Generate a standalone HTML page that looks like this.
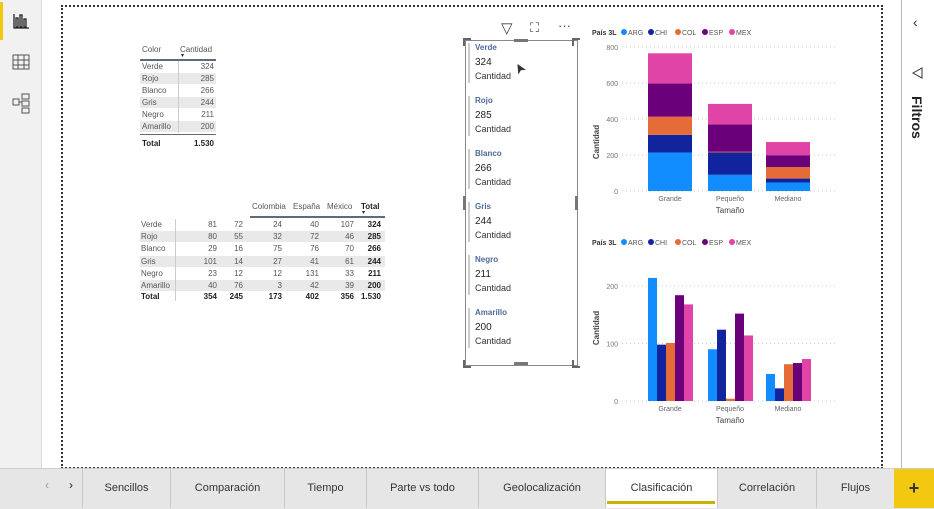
<!DOCTYPE html>
<html><head><meta charset="utf-8">
<style>
body{margin:0;width:934px;height:508px;overflow:hidden;background:#fff;font-family:"Liberation Sans",sans-serif;position:relative}
.a{position:absolute}
.t{font-size:8px;color:#555;position:absolute;white-space:nowrap}
.r{text-align:right}
.b{font-weight:bold;color:#222}
</style></head><body>
<div class="a" style="left:0;top:0;width:41px;height:468px;background:#f1f1f1;border-right:1px solid #ddd"></div>
<div class="a" style="left:0;top:2px;width:3px;height:38px;background:#f2c811"></div>
<svg class="a" style="left:0;top:0" width="41" height="130">
<g stroke="#222" fill="none" stroke-width="1.3"><path d="M14 14v14h15"/><rect x="16" y="18" width="2" height="9"/><rect x="20" y="15" width="2" height="12"/><rect x="24" y="19" width="2" height="8"/></g>
<g stroke="#555" fill="none" stroke-width="1"><rect x="13" y="55" width="16" height="14"/><path d="M13 60h16M13 65h16M18 55v14M24 55v14"/></g>
<g stroke="#555" fill="none" stroke-width="1"><rect x="13" y="99" width="6" height="6"/><rect x="22" y="94" width="7" height="5"/><rect x="22" y="101" width="7" height="5"/><rect x="22" y="108" width="7" height="5"/><path d="M19 102h3"/></g>
</svg>
<div class="a" style="left:61px;top:5px;width:818px;height:460px;border:2px dotted #333"></div>
<div class="a" style="left:901px;top:0;width:33px;height:468px;background:#fff;border-left:1px solid #bbb"></div>
<div class="t" style="left:913px;top:14px;font-size:14px;color:#333">‹</div>
<svg class="a" style="left:911px;top:66px" width="14" height="14"><path d="M2 7 L11 2 L11 12 Z" fill="none" stroke="#333"/></svg>
<div class="t b" style="top:96px;font-size:14px;color:#222;transform:rotate(90deg);transform-origin:0 0;left:925px">Filtros</div>

<svg class="a" style="left:0;top:0" width="934" height="468" id="ch"></svg>

<div class="a" style="left:0;top:468px;width:934px;height:40px;background:#e6e6e6;border-top:1px solid #ccc"></div>

<script>
const colors=["Verde","Rojo","Blanco","Gris","Negro","Amarillo"];
const totals=[324,285,266,244,211,200];
const m1=[81,80,29,101,23,40];
const m2=[72,55,16,14,12,76];
const mCol=[24,32,75,27,12,3];
const mEsp=[40,72,76,41,131,42];
const mMex=[107,46,70,61,33,39];
const sizes=["Grande","Pequeño","Mediano"];
const countries=["ARG","CHI","COL","ESP","MEX"];
const sARG=[214,90,47];
const sCHI=[98,124,22];
const sCOL=[101,4,64];
const sESP=[184,152,66];
const sMEX=[168,114,73];
const stackTicks=[0,200,400,600,800];
const clusterTicks=[0,100,200];
const tabNames=["Sencillos","Comparación","Tiempo","Parte vs todo","Geolocalización","Clasificación","Correlación","Flujos"];

const cc=["#118DFF","#12239E","#E66C37","#6B007B","#E044A7"];
const series=[sARG,sCHI,sCOL,sESP,sMEX];
function el(p,html,cls,st,name){const d=document.createElement('div');d.className='t '+(cls||'');d.style.cssText=st;d.innerHTML=html;


p.appendChild(d);return d;}
const B=document.body;
el(B,"Color","", "left:142px;top:45px","header-color");
el(B,"Cantidad","","left:180px;top:45px","header-cantidad");
el(B,"▾","","left:181px;top:52px;font-size:6px;color:#222","sort-indicator");
el(B,"","","left:140px;top:59px;width:76px;height:2px;background:#5d6b7a","header-underline");
colors.forEach((c,i)=>{const y=61+i*12;
 if(i%2==1)el(B,"","","left:140px;top:"+y+"px;width:76px;height:11px;background:#e9e9e9","row-shade");
 el(B,c,"","left:142px;top:"+(y+1)+"px","row-label");
 el(B,totals[i],"r","left:180px;width:34px;top:"+(y+1)+"px","row-value");
});
el(B,"","","left:178px;top:61px;width:1px;height:72px;background:#ccc","col-sep");
el(B,"","","left:140px;top:134px;width:76px;height:1px;background:#5d6b7a","total-line");
el(B,"Total","b","left:142px;top:139px","total-label");
el(B,"1.530","b r","left:180px;width:34px;top:139px","total-value");
const hx=[[252,"Colombia"],[293,"España"],[327,"México"]];
hx.forEach(h=>el(B,h[1],"","left:"+h[0]+"px;top:202px","matrix-header"));
el(B,"Total","b","left:361px;top:202px","matrix-header-total");
el(B,"▾","","left:362px;top:209px;font-size:6px;color:#222","sort-indicator");
el(B,"","","left:250px;top:216px;width:135px;height:2px;background:#5d6b7a","matrix-header-underline");
const rx=[217,243,282,319,354,381];
const cols=[m1,m2,mCol,mEsp,mMex,totals];
colors.forEach((c,i)=>{const y=219+i*12.2;
 if(i%2==1)el(B,"","","left:140px;top:"+y+"px;width:245px;height:11px;background:#e9e9e9","matrix-row-shade");
 el(B,c,"","left:141px;top:"+(y+1)+"px","matrix-row-label");
 cols.forEach((col,j)=>el(B,col[i],j==5?"b r":"r","left:"+(rx[j]-40)+"px;width:40px;top:"+(y+1)+"px","matrix-cell"));
});
el(B,"","","left:175px;top:219px;width:1px;height:82px;background:#ccc","matrix-col-sep");
const tot=cols.map(c=>c.reduce((a,b)=>a+b,0));
el(B,"Total","b","left:141px;top:292px","matrix-total-label");
tot.forEach((v,j)=>el(B,v==1530?"1.530":v,"b r","left:"+(rx[j]-40)+"px;width:40px;top:292px","matrix-total"));
el(B,"","","left:465px;top:40px;width:111px;height:324px;border:1px solid #888","card-frame");
[[463,38],[572,38],[463,360],[572,360]].forEach(p=>el(B,"","","left:"+p[0]+"px;top:"+p[1]+"px;width:6px;height:6px;border:2px solid #666;border-width:"+(p[1]<100?"2px 0 0 2px":"0 0 2px 2px"),"resize-handle"));
el(B,"","","left:514px;top:39px;width:14px;height:3px;background:#777","resize-handle-top");
el(B,"","","left:514px;top:362px;width:14px;height:3px;background:#777","resize-handle-bottom");
el(B,"","","left:463px;top:196px;width:3px;height:14px;background:#777","resize-handle-left");
el(B,"","","left:575px;top:196px;width:3px;height:14px;background:#777","resize-handle-right");
colors.forEach((c,i)=>{const y=43+i*53;
 el(B,"","","left:468px;top:"+y+"px;width:2px;height:40px;background:#ccc","card-bar");
 el(B,c,"b","left:475px;top:"+y+"px;color:#4e6a9b;font-size:8px","card-label");
 el(B,totals[i],"b","left:475px;top:"+(y+14)+"px;font-size:10px;color:#222;font-weight:normal","card-value");
 el(B,"Cantidad","","left:475px;top:"+(y+28)+"px;font-size:9px;color:#333","card-caption");
});
el(B,"▽","","left:501px;top:19px;font-size:15px;color:#444","filter-icon");
el(B,"⛶","","left:530px;top:20px;font-size:13px;color:#444","focus-icon");
el(B,"···","","left:558px;top:18px;font-size:13px;color:#444","more-options");
el(B,"➤","","left:514px;top:60px;font-size:14px;color:#333;transform:rotate(-120deg)","cursor");

const svg=document.getElementById('ch');const NS="http://www.w3.org/2000/svg";
function s(tag,at,name,txt){const e=document.createElementNS(NS,tag);for(const k in at)e.setAttribute(k,at[k]);


if(txt!==undefined)e.textContent=txt;svg.appendChild(e);return e;}
const cx=[670,730,788];
function legend(y){s('text',{x:592,y:y+3,'font-size':7,'font-weight':'bold',fill:'#333'},'legend-title','País 3L');
 countries.forEach((c,i)=>{const x=624+i*27;s('circle',{cx:x,cy:y,r:3,fill:cc[i]},'legend-dot');s('text',{x:x+4,y:y+3,'font-size':7,fill:'#555'},'legend-entry',c);});}
function axes(y0,scale,ticks,ylab){
 ticks.forEach(t=>{const y=y0-t*scale;s('line',{x1:622,x2:835,y1:y,y2:y,stroke:'#ccc','stroke-dasharray':'1,3'},'gridline');
 s('text',{x:618,y:y+3,'font-size':7,fill:'#777','text-anchor':'end'},'y-tick',t);});
 s('text',{x:0,y:0,'font-size':8,'font-weight':'bold',fill:'#444','text-anchor':'middle',transform:`translate(599,${ylab}) rotate(-90)`},'y-axis-title','Cantidad');
 sizes.forEach((z,i)=>s('text',{x:cx[i],y:y0+10,'font-size':7,fill:'#666','text-anchor':'middle'},'x-tick',z));
 s('text',{x:730,y:y0+22,'font-size':8,fill:'#444','text-anchor':'middle'},'x-axis-title','Tamaño');}
legend(32);const y0a=191,sca=144/800;axes(y0a,sca,stackTicks,142);
sizes.forEach((z,i)=>{let acc=0;series.forEach((ser,k)=>{s('rect',{x:cx[i]-22,y:y0a-(acc+ser[i])*sca,width:44,height:ser[i]*sca,fill:cc[k]},'stacked-bar-'+countries[k]);acc+=ser[i];});});
legend(242);const y0b=401,scb=115/200;axes(y0b,scb,clusterTicks,328);
sizes.forEach((z,i)=>{series.forEach((ser,k)=>{s('rect',{x:cx[i]-22+k*9,y:y0b-ser[i]*scb,width:9,height:ser[i]*scb,fill:cc[k]},'cluster-bar-'+countries[k]);});});

const seps=[82,170,284,366,478,605,717,816,894];
el(B,"‹","","left:45px;top:478px;font-size:12px;color:#999","tab-prev");
el(B,"›","","left:69px;top:478px;font-size:12px;color:#222","tab-next");
tabNames.forEach((n,i)=>{const x=seps[i],w=seps[i+1]-seps[i];
 const d=el(B,n,"","left:"+x+"px;top:469px;width:"+(w-1)+"px;height:39px;line-height:38px;text-align:center;font-size:11px;color:#333;border-left:1px solid #c8c8c8;"+(i==5?"background:#fff;":""),"tab-"+n.toLowerCase().replace(/ /g,'-'));
 
});
el(B,"","","left:607px;top:501px;width:108px;height:3px;background:#c8b400","active-tab-underline");
el(B,"+","b","left:894px;top:469px;width:40px;height:39px;background:#f2c811;text-align:center;line-height:38px;font-size:18px;color:#333","add-page-button");
</script>
</body></html>
